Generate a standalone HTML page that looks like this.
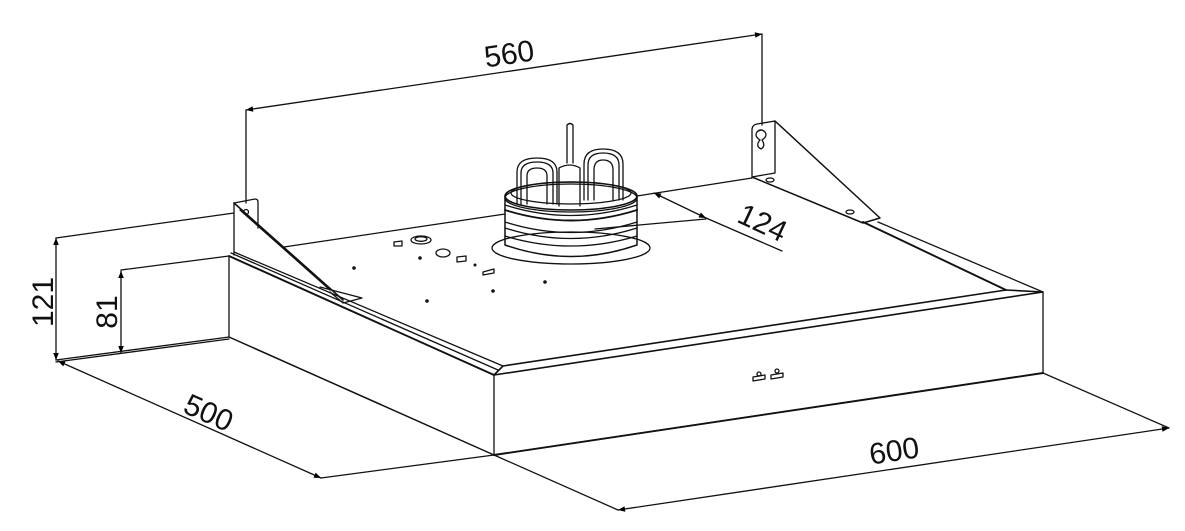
<!DOCTYPE html>
<html><head><meta charset="utf-8"><style>
html,body{margin:0;padding:0;background:#fff;}
svg{display:block;}
text{font-family:"Liberation Sans",sans-serif;font-size:30px;fill:#111;}
</style></head><body>
<svg width="1185" height="531" viewBox="0 0 1185 531" xmlns="http://www.w3.org/2000/svg">
<defs>
<marker id="a" viewBox="0 0 10 10" refX="10" refY="5" markerWidth="16" markerHeight="7" markerUnits="userSpaceOnUse" orient="auto-start-reverse"><path d="M0,1 L10,5 L0,9z" fill="#000"/></marker>
</defs>
<g fill="none" stroke="#111" stroke-width="1.3" stroke-linejoin="round" stroke-linecap="round">
<line x1="246" y1="110" x2="762" y2="34" marker-start="url(#a)" marker-end="url(#a)"/>
<line x1="246" y1="110" x2="246" y2="203"/>
<line x1="762" y1="34" x2="762" y2="125"/>
<line x1="56" y1="238" x2="56" y2="360" marker-start="url(#a)" marker-end="url(#a)"/>
<line x1="56" y1="238" x2="234" y2="213"/>
<line x1="121" y1="271" x2="121" y2="353" marker-start="url(#a)" marker-end="url(#a)"/>
<line x1="121" y1="270" x2="229" y2="256"/>
<line x1="58" y1="361" x2="321" y2="478" marker-start="url(#a)" marker-end="url(#a)"/>
<line x1="321" y1="478" x2="494" y2="455"/>
<line x1="618" y1="510" x2="1169" y2="428" marker-start="url(#a)" marker-end="url(#a)"/>
<line x1="494" y1="455" x2="618" y2="510"/>
<line x1="1043" y1="373" x2="1169" y2="428"/>
<line x1="654" y1="193" x2="706" y2="218" marker-start="url(#a)" marker-end="url(#a)"/>
<line x1="706" y1="218" x2="782" y2="251"/>
<line x1="595" y1="229" x2="706" y2="219"/>
<line x1="56" y1="360" x2="229" y2="337"/>
<line x1="56" y1="362" x2="229" y2="339"/>
<line x1="229" y1="256" x2="229" y2="337"/>
<line x1="229" y1="337" x2="494" y2="455" stroke-width="1.5"/>
<line x1="229" y1="256" x2="494" y2="375" stroke-width="1.9"/>
<line x1="231" y1="253" x2="498" y2="370"/>
<line x1="234" y1="252" x2="503" y2="366"/>
<path d="M494,375 L494,455 L1043,373 L1043,292"/>
<line x1="494" y1="455" x2="1043" y2="373" stroke-width="1.9"/>
<path d="M494,375 L503,366 L1006,290 L1043,292 L494,375" stroke-width="1.6"/>
<line x1="284" y1="247" x2="505" y2="214"/>
<line x1="637" y1="196" x2="752" y2="178"/>
<line x1="878" y1="222" x2="1043" y2="292"/>
<line x1="863" y1="222" x2="1006" y2="290" stroke-width="1.9"/>
<path d="M234,203 L234,255"/>
<path d="M234,203 L255,199 Q258,199 258,202 L258,228"/>
<path d="M234,203 L343,300" stroke-width="1.6"/>
<path d="M240,210 L330,290"/>
<path d="M320,287 L362,298 L343,303 L330,292"/>
<circle cx="246" cy="212" r="2.5"/>
<path d="M752,176 L752,130 Q752,125 757,124 L775,121 L775,173 L752,177"/>
<path d="M775,121 L880,218 L863,223 L752,177" stroke-width="1.5"/>
<path d="M760,140 Q754,136 757,132 Q761,128 765,132 Q768,136 762,140 Q766,146 761,149 Q755,146 760,140z"/>
<ellipse cx="770" cy="180" rx="4" ry="2"/>
<ellipse cx="850" cy="212" rx="4" ry="2"/>
<ellipse cx="571" cy="248" rx="79" ry="16"/>
<path d="M505,196 L505,245 Q571,268 637,245 L637,196" stroke-width="1.5"/>
<ellipse cx="571" cy="196" rx="66" ry="14" stroke-width="1.6"/>
<ellipse cx="571" cy="198" rx="66" ry="14"/>
<ellipse cx="571" cy="193" rx="60" ry="11"/>
<path d="M505,205 Q571,226 637,205"/>
<path d="M505,210 Q571,231 637,210" stroke-width="1.9"/>
<path d="M505,222 Q571,243 637,222"/>
<path d="M505,228 Q571,249 637,228"/>
<path d="M505,236 Q571,256 637,236"/>
<path d="M567,163 L567,125 Q570,122 573,125 L573,163"/>
<path d="M559,206 L559,168 Q570,162 580,168 L580,206"/>
<path d="M517,204 L517,172 Q517,158 537,158 Q557,158 557,172 L557,204"/>
<path d="M521,204 L521,173 Q521,162 537,162 Q553,162 553,173 L553,204"/>
<path d="M527,204 L527,176 Q527,168 537,168 Q547,168 547,176 L547,204"/>
<path d="M584,200 L584,164 Q584,149 603,149 Q623,149 623,164 L623,200"/>
<path d="M588,200 L588,165 Q588,153 603,153 Q619,153 619,165 L619,200"/>
<path d="M594,200 L594,170 Q594,160 603,160 Q613,160 613,170 L613,200"/>
<ellipse cx="421" cy="240" rx="10" ry="4"/>
<ellipse cx="421" cy="239" rx="6" ry="2.3"/>
<ellipse cx="443" cy="253" rx="7" ry="4"/>
<path d="M394,242 L402,241 L402,246 L394,246z"/>
<path d="M457,257 L466,256 L466,261 L457,262z"/>
<path d="M483,272 L494,269 L494,273 L483,275z"/>
<path d="M753,381 L765,379 L765,375 L753,377z"/>
<path d="M771,379 L783,377 L783,373 L771,375z"/>
<circle cx="759" cy="374" r="2"/>
<circle cx="777" cy="371" r="2"/>
</g>
<g fill="#111">
<circle cx="354" cy="268" r="1.8"/><circle cx="420" cy="258" r="1.8"/><circle cx="427" cy="301" r="1.8"/>
<circle cx="493" cy="291" r="1.8"/><circle cx="545" cy="282" r="1.8"/><circle cx="475" cy="265" r="1.5"/>
</g>
<text x="509" y="64" text-anchor="middle" transform="rotate(-8.4 509 53)">560</text>
<text x="0" y="0" text-anchor="middle" transform="translate(42,302) rotate(-90) translate(0,11)">121</text>
<text x="0" y="0" text-anchor="middle" transform="translate(106,312) rotate(-90) translate(0,11)">81</text>
<text x="0" y="0" text-anchor="middle" transform="translate(209,412) rotate(24) translate(0,11)">500</text>
<text x="0" y="0" text-anchor="middle" transform="translate(763,222) rotate(25) translate(0,11)">124</text>
<text x="0" y="0" text-anchor="middle" transform="translate(894,450) rotate(-8.5) translate(0,11)">600</text>
</svg>
</body></html>
